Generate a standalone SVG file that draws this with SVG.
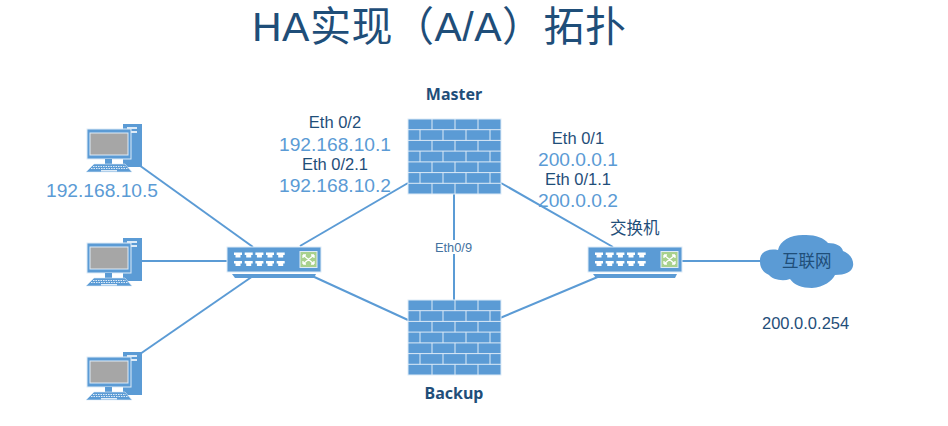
<svg xmlns="http://www.w3.org/2000/svg" width="948" height="426" viewBox="0 0 948 426">
<style>
text{font-family:"Liberation Sans","Noto Sans CJK SC",sans-serif}
.title{font-size:41px;fill:#1f4e79}
.blue{fill:#5b9bd5;font-size:19.200px}
.port{fill:#1f4e79;font-size:16.500px}
.tag{font-family:"Noto Sans",sans-serif;fill:#1f4e79;font-size:16px;font-weight:700;text-anchor:middle}
.mid{text-anchor:middle}
.link{stroke:#5b9bd5;stroke-width:2;fill:none}
.brick{stroke:#deebf7;stroke-width:1;fill:none}
</style>
<defs>
<g id="pc">
<rect x="36" y="0" width="19" height="43" fill="#5b9bd5"/>
<rect x="40" y="3" width="10" height="2" fill="#deebf7"/>
<rect x="40" y="7" width="10" height="2" fill="#deebf7"/>
<rect x="0" y="5" width="44" height="30" fill="#5b9bd5" stroke="#deebf7"/>
<rect x="3" y="9" width="38" height="22" fill="#a6a6a6" stroke="#deebf7"/>
<rect x="18" y="35" width="7" height="5" fill="#5b9bd5"/>
<path d="M7 40H38L45 48H-1Z" fill="#5b9bd5" stroke="#deebf7" stroke-width=".6"/>
<path d="M6 42.500H39M4 44.500H41" stroke="#deebf7" stroke-dasharray="1.500 1" fill="none"/>
<rect x="14" y="46" width="16" height="1.500" fill="#deebf7"/>
</g>
<g id="switch">
<rect x="0" y="0" width="94" height="25" fill="#5b9bd5" stroke="#deebf7"/>
<path d="M5 27H89L87 31H8Z" fill="#5b9bd5"/>
<g fill="#fff">
<path id="jack" d="M7 5.500h8v2.500h-1.500v2.500h-5V8H7Z"/>
<use href="#jack" x="10.700"/><use href="#jack" x="21.400"/><use href="#jack" x="32"/><use href="#jack" x="42.700"/>
<use href="#jack" y="8.500"/><use href="#jack" x="10.700" y="8.500"/><use href="#jack" x="21.400" y="8.500"/><use href="#jack" x="32" y="8.500"/><use href="#jack" x="42.700" y="8.500"/>
</g>
<rect x="73" y="4.500" width="17" height="16" fill="#a9d18e" stroke="#deebf7"/>
<path d="M76 8l11 9M87 8l-11 9M76 8h3M76 8v3M87 8h-3M87 8v3M76 17h3M76 17v-3M87 17h-3M87 17v-3" stroke="#fff" stroke-width="1.300" fill="none"/>
</g>
<g id="wall">
<rect x="0" y="0" width="93" height="75" fill="#5b9bd5" stroke="#deebf7"/>
<path class="brick" d="M0 10.700H93M0 21.400H93M0 32.100H93M0 42.900H93M0 53.600H93M0 64.300H93"/>
<path class="brick" d="M24 0V10.700M47 0V10.700M70 0V10.700M12 10.700V21.400M35 10.700V21.400M58 10.700V21.400M82 10.700V21.400M24 21.400V32.100M47 21.400V32.100M70 21.400V32.100M12 32.100V42.900M35 32.100V42.900M58 32.100V42.900M82 32.100V42.900M24 42.900V53.600M47 42.900V53.600M70 42.900V53.600M12 53.600V64.300M35 53.600V64.300M58 53.600V64.300M82 53.600V64.300M24 64.300V75M47 64.300V75M70 64.300V75"/>
</g>
</defs>
<rect width="948" height="426" fill="#fff"/>

<text x="252" y="41" class="title" textLength="374" lengthAdjust="spacing">HA实现（A/A）拓扑</text>

<g id="connectors">
<path class="link" d="M139 165L253 247"/>
<path class="link" d="M141 261H227"/>
<path class="link" d="M140 354L253 276"/>
<path class="link" d="M300 246L408 183"/>
<path class="link" d="M310 275L408 320"/>
<path class="link" d="M454 194V240M454 254V300"/>
<path class="link" d="M501 183L613 247"/>
<path class="link" d="M500 318L600 276"/>
<path class="link" d="M682 261H760"/>
</g>

<g id="pc1"><use href="#pc" x="87" y="124"/></g>
<g id="pc2"><use href="#pc" x="87" y="238"/></g>
<g id="pc3"><use href="#pc" x="87" y="352"/></g>
<text x="46" y="197" class="blue">192.168.10.5</text>

<g id="switch-lan"><use href="#switch" x="227" y="247"/></g>
<g id="switch-wan"><use href="#switch" x="588" y="247"/>
<text x="610" y="234" class="port">交换机</text></g>

<g id="master"><use href="#wall" x="408" y="119"/>
<text x="454" y="100" class="tag">Master</text></g>
<g id="backup"><use href="#wall" x="408" y="300"/>
<text x="454" y="399" class="tag">Backup</text></g>

<g id="cloud">
<path d="M760 262C759 252 768 248 778 250C780 240 792 234 806 235C816 235 824 238 828 243C836 243 842 246 843 251C851 254 854 261 853 266C852 272 845 275 835 275C832 281 824 287 812 288C802 288 794 285 790 279C782 282 772 279 769 275C763 272 760 268 760 262Z" fill="#5b9bd5"/>
<text x="782" y="267" class="port">互联网</text>
</g>

<text x="435" y="252" font-size="12.800" fill="#44729f">Eth0/9</text>

<g id="labels-lan">
<text x="335" y="128" class="port mid">Eth 0/2</text>
<text x="335" y="151" class="blue mid">192.168.10.1</text>
<text x="335" y="170" class="port mid">Eth 0/2.1</text>
<text x="335" y="192" class="blue mid">192.168.10.2</text>
</g>
<g id="labels-wan">
<text x="578" y="144" class="port mid">Eth 0/1</text>
<text x="578" y="166" class="blue mid">200.0.0.1</text>
<text x="578" y="185" class="port mid">Eth 0/1.1</text>
<text x="578" y="207" class="blue mid">200.0.0.2</text>
</g>
<text x="762" y="329" class="port">200.0.0.254</text>
</svg>
